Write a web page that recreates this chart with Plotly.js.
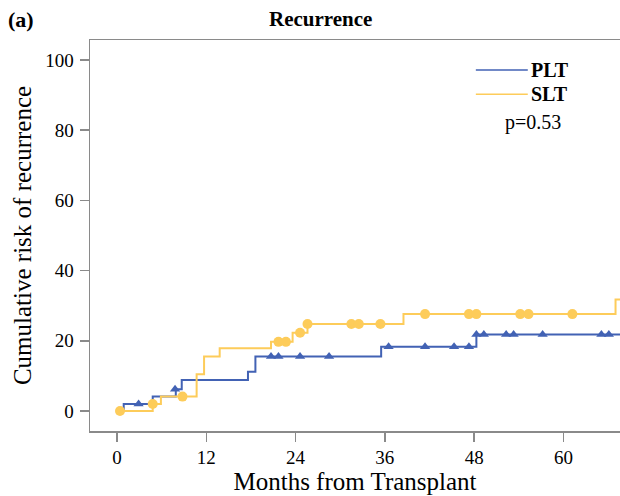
<!DOCTYPE html>
<html>
<head>
<meta charset="utf-8">
<script src="https://cdn.plot.ly/plotly-3.0.1.min.js"></script>
<style>html,body{margin:0;padding:0;background:#fff;}#chart{width:620px;height:496px;}</style>
</head>
<body>
<div id="chart"></div>
<script>
// PLT step curve
const pltTimes  = [0, 0.9, 4.8, 7.9, 8.7, 17.6, 18.6, 35.5, 48.3, 67.6];
const pltValues = [0, 2.0, 4.1, 6.2, 8.8, 11.2, 15.5, 18.3, 21.8, 21.8];
// PLT censored marks
const pltCensorTimes  = [2.9, 7.8, 20.7, 21.7, 24.6, 28.5, 36.5, 41.4, 45.3, 47.3, 48.3, 49.3, 52.3, 53.3, 57.2, 65.1, 66.1];
const pltCensorValues = [2.0, 6.2, 15.5, 15.5, 15.5, 15.5, 18.3, 18.3, 18.3, 18.3, 21.8, 21.8, 21.8, 21.8, 21.8, 21.8, 21.8];
// SLT step curve
const sltTimes  = [0, 4.8, 5.9, 10.7, 11.7, 13.8, 20.7, 23.6, 25.6, 38.5, 67.0, 67.6];
const sltValues = [0, 2.0, 4.1, 10.5, 15.5, 17.9, 19.7, 22.3, 24.8, 27.6, 31.8, 31.8];
// SLT censored marks
const sltCensorTimes  = [0.4, 4.8, 8.8, 21.7, 22.7, 24.6, 25.6, 31.5, 32.5, 35.4, 41.4, 47.3, 48.3, 54.2, 55.3, 61.2];
const sltCensorValues = [0, 2.0, 4.1, 19.7, 19.7, 22.3, 24.8, 24.8, 24.8, 24.8, 27.6, 27.6, 27.6, 27.6, 27.6, 27.6];
// Axis ticks
const xTicks = [0, 12, 24, 36, 48, 60];
const yTicks = [0, 20, 40, 60, 80, 100];
const seriesNames = ['PLT', 'SLT'];
const pValueText = 'p=0.53';

const blue = '#4262b4';
const yellow = '#fdcc5a';
const serif = 'Liberation Serif, Times New Roman, serif';

const traces = [
  {x: pltTimes, y: pltValues, mode: 'lines', line: {shape: 'hv', color: blue, width: 2}, name: seriesNames[0], showlegend: false, hoverinfo: 'skip'},
  {x: sltTimes, y: sltValues, mode: 'lines', line: {shape: 'hv', color: yellow, width: 2}, name: seriesNames[1], showlegend: false, hoverinfo: 'skip'},
  {x: pltCensorTimes, y: pltCensorValues, mode: 'markers', marker: {symbol: 'triangle-up', size: 9, color: blue}, showlegend: false},
  {x: sltCensorTimes, y: sltCensorValues, mode: 'markers', marker: {symbol: 'circle', size: 10, color: yellow}, showlegend: false}
];

const layout = {
  width: 620, height: 496,
  margin: {l: 90, r: 0, t: 40, b: 65},
  paper_bgcolor: '#ffffff', plot_bgcolor: '#ffffff',
  font: {family: serif, color: '#000', size: 19},
  xaxis: {
    range: [-3.63, 67.6], tickvals: xTicks, ticktext: xTicks.map(String),
    showgrid: false, zeroline: false, showline: true, mirror: true,
    linecolor: '#8a8a8a', linewidth: 1.5,
    ticks: 'outside', ticklen: 9, tickcolor: '#8a8a8a', tickwidth: 1.5,
    tickfont: {family: serif, size: 19, color: '#000'},
    title: {text: 'Months from Transplant', font: {family: serif, size: 25, color: '#000'}, standoff: 4}
  },
  yaxis: {
    range: [-5.7, 105.7], tickvals: yTicks, ticktext: yTicks.map(String),
    showgrid: false, zeroline: false, showline: true,
    linecolor: '#8a8a8a', linewidth: 1.5,
    ticks: 'outside', ticklen: 9, tickcolor: '#8a8a8a', tickwidth: 1.5,
    ticklabelstandoff: 2,
    tickfont: {family: serif, size: 19, color: '#000'},
    title: {text: 'Cumulative risk of recurrence', font: {family: serif, size: 25, color: '#000'}, standoff: 6}
  },
  shapes: [
    {type: 'line', xref: 'paper', yref: 'paper', x0: 0.728, x1: 0.826, y0: 0.923, y1: 0.923, line: {color: blue, width: 1.5}},
    {type: 'line', xref: 'paper', yref: 'paper', x0: 0.728, x1: 0.826, y0: 0.861, y1: 0.861, line: {color: yellow, width: 1.5}}
  ],
  annotations: [
    {text: '<b>Recurrence</b>', xref: 'paper', yref: 'paper', x: 0.434, y: 1.0, yshift: 21, xanchor: 'center', yanchor: 'middle', showarrow: false, font: {family: serif, size: 21, color: '#000'}},
    {text: '<b>(a)</b>', xref: 'paper', yref: 'paper', x: -0.158, y: 1.0, yshift: 21, xanchor: 'left', yanchor: 'middle', showarrow: false, font: {family: serif, size: 22, color: '#000'}},
    {text: '<b>' + seriesNames[0] + '</b>', xref: 'paper', yref: 'paper', x: 0.829, y: 0.923, xanchor: 'left', yanchor: 'middle', showarrow: false, font: {family: serif, size: 20, color: '#000'}},
    {text: '<b>' + seriesNames[1] + '</b>', xref: 'paper', yref: 'paper', x: 0.829, y: 0.861, xanchor: 'left', yanchor: 'middle', showarrow: false, font: {family: serif, size: 20, color: '#000'}},
    {text: pValueText, xref: 'paper', yref: 'paper', x: 0.78, y: 0.79, xanchor: 'left', yanchor: 'middle', showarrow: false, font: {family: serif, size: 20, color: '#000'}}
  ]
};

Plotly.newPlot('chart', traces, layout, {staticPlot: true, displayModeBar: false});
</script>
</body>
</html>
